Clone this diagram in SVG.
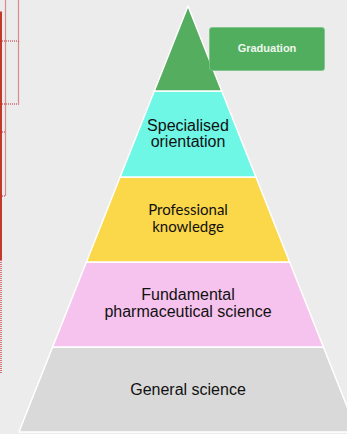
<svg xmlns="http://www.w3.org/2000/svg" width="347" height="434" viewBox="0 0 347 434">
  <style>
    .band { stroke: #ffffff; stroke-width: 1.5; stroke-linejoin: round; }
    .lbl { font-family: "Liberation Sans", Arial, sans-serif; font-size: 16px; fill: #111111; text-anchor: middle; }
    .lbl2 { font-family: Lato, "Liberation Sans", sans-serif; font-size: 15px; fill: #111111; text-anchor: middle; }
    .grad { font-family: "Liberation Sans", Arial, sans-serif; font-size: 11px; font-weight: bold; fill: #eef7ee; text-anchor: middle; }
    .dot { fill: none; stroke: #c62828; stroke-width: 1.2; stroke-dasharray: 1 1; }
  </style>
  <rect x="0" y="0" width="347" height="434" fill="#ececec"/>

  <g id="selection-marks">
    <line x1="1" y1="11.5" x2="1" y2="260" stroke="#c0392b" stroke-width="2"/>
    <line class="dot" x1="1" y1="260" x2="1" y2="374"/>
    <polyline class="dot" points="0,132 5.5,132 5.5,0"/>
    <polyline class="dot" points="0,196 5.5,196 5.5,132"/>
    <polyline class="dot" points="0,41 18.5,41 18.5,0"/>
    <polyline class="dot" points="0,104 18.5,104 18.5,41"/>
  </g>

  <g id="level-general">
    <polygon class="band" fill="#d9d9d9" points="52.6,347 323.4,347 357.1,432 18.9,432"/>
    <text class="lbl" x="188" y="395">General science</text>
  </g>
  <g id="level-fundamental">
    <polygon class="band" fill="#f6c3ee" points="86.4,262 289.6,262 323.4,347 52.6,347"/>
    <text class="lbl" x="188" y="300">Fundamental</text>
    <text class="lbl" x="188" y="317">pharmaceutical science</text>
  </g>
  <g id="level-professional">
    <polygon class="band" fill="#fbd74a" points="120.1,177 255.9,177 289.6,262 86.4,262"/>
    <text class="lbl2" x="188" y="215">Professional</text>
    <text class="lbl2" x="188" y="232">knowledge</text>
  </g>
  <g id="level-specialised">
    <polygon class="band" fill="#6ff7e6" points="154.3,91 221.7,91 255.9,177 120.1,177"/>
    <text class="lbl" x="188" y="131">Specialised</text>
    <text class="lbl" x="188" y="147">orientation</text>
  </g>
  <g id="level-top">
    <polygon class="band" fill="#55ad60" points="188,6 221.7,91 154.3,91"/>
  </g>
  <g id="graduation">
    <rect x="209.5" y="27.5" width="115" height="43" rx="2.5" fill="#52ae5f" stroke="#7cc487" stroke-width="0.8"/>
    <text class="grad" x="267" y="52">Graduation</text>
  </g>
</svg>
